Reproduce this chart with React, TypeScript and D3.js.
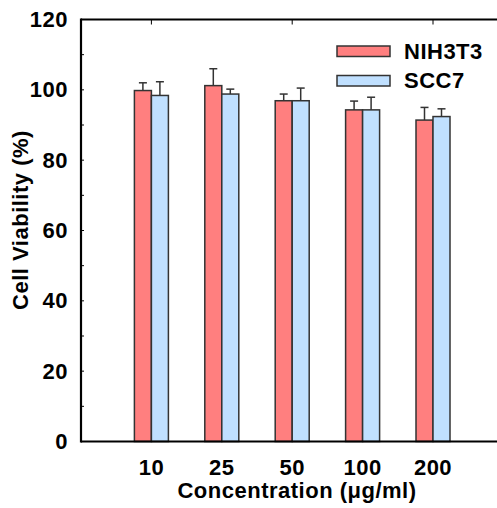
import * as d3 from 'd3';
import React, { useRef, useEffect } from 'react';

const categories = ['10', '25', '50', '100', '200'];
const nihValues = [99.8, 101.2, 96.9, 94.3, 91.4];
const nihErrors = [2.2, 4.8, 1.9, 2.5, 3.6];
const sccValues = [98.4, 98.8, 96.9, 94.3, 92.4];
const sccErrors = [3.9, 1.4, 3.6, 3.6, 2.2];
const yTicks = [0, 20, 40, 60, 80, 100, 120];
const seriesNames = ['NIH3T3', 'SCC7'];
const seriesColors = ['#ff7f7f', '#c0e0ff'];

const W = 497;
const H = 508;
const FONT = 'Arial, "Liberation Sans", Helvetica, sans-serif';
const FS = 22;

function App() {
    const ref = useRef<SVGSVGElement>(null);

    useEffect(() => {
        const svg = d3.select(ref.current);
        svg.selectAll('*').remove();

        const x = d3.scaleLinear().domain([0, categories.length + 1]).range([81, 81 + 6 * 70.4]);
        const y = d3.scaleLinear().domain([0, 120]).range([441.5, 19.5]);
        const barW = 17;

        const series = [
            { name: seriesNames[0], values: nihValues, errors: nihErrors, color: seriesColors[0], off: -barW },
            { name: seriesNames[1], values: sccValues, errors: sccErrors, color: seriesColors[1], off: 0 },
        ];

        const label = (sel: any) => sel
            .attr('font-family', FONT)
            .attr('font-weight', 'bold')
            .attr('font-size', FS)
            .attr('letter-spacing', 0.5);

        // bars + error bars
        series.forEach(s => {
            const g = svg.append('g');
            g.selectAll('line.err')
                .data(s.values)
                .join('line')
                .attr('x1', (d, i) => x(i + 1) + s.off + barW / 2)
                .attr('x2', (d, i) => x(i + 1) + s.off + barW / 2)
                .attr('y1', d => y(d))
                .attr('y2', (d, i) => y(d + s.errors[i]))
                .attr('stroke', '#333')
                .attr('stroke-width', 1.5);
            g.selectAll('line.cap')
                .data(s.values)
                .join('line')
                .attr('x1', (d, i) => x(i + 1) + s.off + barW / 2 - 4)
                .attr('x2', (d, i) => x(i + 1) + s.off + barW / 2 + 4)
                .attr('y1', (d, i) => y(d + s.errors[i]))
                .attr('y2', (d, i) => y(d + s.errors[i]))
                .attr('stroke', '#333')
                .attr('stroke-width', 1.5);
            g.selectAll('rect')
                .data(s.values)
                .join('rect')
                .attr('x', (d, i) => x(i + 1) + s.off)
                .attr('width', barW)
                .attr('y', d => y(d))
                .attr('height', d => y(0) - y(d))
                .attr('fill', s.color)
                .attr('stroke', '#333')
                .attr('stroke-width', 1.5);
        });

        // axes lines
        svg.append('line')
            .attr('x1', 81).attr('x2', W).attr('y1', y(0)).attr('y2', y(0))
            .attr('stroke', '#000').attr('stroke-width', 2.2);
        svg.append('line')
            .attr('x1', 81).attr('x2', W).attr('y1', y(120)).attr('y2', y(120))
            .attr('stroke', '#000').attr('stroke-width', 2);
        svg.append('line')
            .attr('x1', 81).attr('x2', 81).attr('y1', y(120) - 1).attr('y2', y(0) + 1)
            .attr('stroke', '#000').attr('stroke-width', 2.2);

        // left inward ticks every 10
        svg.append('g').selectAll('line')
            .data(d3.range(10, 120, 10))
            .join('line')
            .attr('x1', 81).attr('x2', 84)
            .attr('y1', d => y(d)).attr('y2', d => y(d))
            .attr('stroke', '#000').attr('stroke-width', 1);

        // top ticks
        svg.append('g').selectAll('line')
            .data([1, 3, 5])
            .join('line')
            .attr('x1', d => x(d)).attr('x2', d => x(d))
            .attr('y1', y(120)).attr('y2', y(120) + 5)
            .attr('stroke', '#000').attr('stroke-width', 1);

        // y tick labels
        svg.append('g').selectAll('text')
            .data(yTicks)
            .join('text')
            .attr('x', 68)
            .attr('y', d => y(d) + 7.5)
            .attr('text-anchor', 'end')
            .call(label)
            .text(d => d);

        // x tick labels
        svg.append('g').selectAll('text')
            .data(categories)
            .join('text')
            .attr('x', (d, i) => x(i + 1))
            .attr('y', 475)
            .attr('text-anchor', 'middle')
            .call(label)
            .text(d => d);

        // axis titles
        svg.append('text')
            .attr('x', 297)
            .attr('y', 498)
            .attr('text-anchor', 'middle')
            .call(label)
            .text('Concentration (μg/ml)');

        svg.append('text')
            .attr('transform', 'translate(27.5,220) rotate(-90)')
            .attr('text-anchor', 'middle')
            .call(label)
            .text('Cell Viability (%)');

        // legend
        const leg = svg.append('g');
        series.forEach((s, i) => {
            leg.append('rect')
                .attr('x', 337).attr('y', 46 + i * 29.5)
                .attr('width', 53).attr('height', 10.5)
                .attr('fill', s.color).attr('stroke', '#333').attr('stroke-width', 1.5);
            leg.append('text')
                .attr('x', 404).attr('y', 58.5 + i * 29.5)
                .call(label)
                .text(s.name);
        });
    }, []);

    return (
        <svg ref={ref} width={W} height={H}
            style={{ position: 'absolute', left: 0, top: 0, background: '#fff' }}>
        </svg>
    );
}

export default App;
